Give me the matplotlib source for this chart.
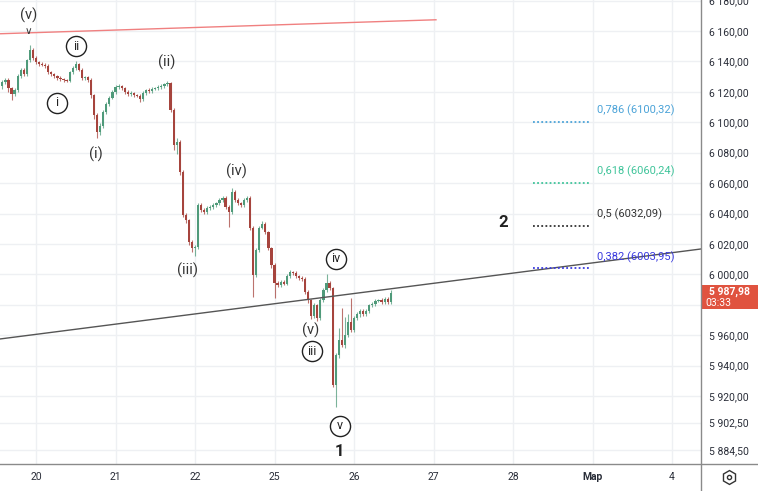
#!/usr/bin/python3
"""
15 minute candles with Elliott wave marks and a fib retracement box
"""
import matplotlib
matplotlib.use("Agg")
import matplotlib.pyplot as plt
import numpy as np
from matplotlib.lines import Line2D
from matplotlib.patches import Rectangle

plt.rcParams["font.family"] = ["Roboto", "DejaVu Sans"]

# closes per 15 min bar, split by session (19th is only partly on screen)
first_open = 6124.0
close_19 = [6126.5, 6127.8, 6122.5, 6118.6, 6121.2, 6130.4, 6134.4, 6131.7, 6140.9, 6147.5, 6142.2]
close_20 = [6139.6, 6138.3, 6137.9, 6137.0, 6133.0, 6131.7, 6130.4, 6129.1, 6128.4, 6127.8, 6127.2, 6133.0, 6135.7,
            6138.3, 6134.4, 6129.1, 6129.7, 6127.8, 6117.9, 6104.8, 6093.6, 6097.5, 6106.7, 6112.0, 6116.0, 6119.9]
close_21 = [6123.2, 6123.8, 6122.5, 6119.9, 6118.6, 6119.2, 6117.9, 6117.3, 6115.3, 6119.2, 6121.2, 6120.5, 6121.9,
            6122.5, 6123.2, 6123.8, 6125.1, 6125.8, 6108.1, 6085.0, 6087.0, 6067.3, 6039.0, 6035.7, 6021.3, 6017.3]
close_22 = [6018.0, 6045.6, 6042.3, 6041.0, 6043.6, 6044.3, 6045.6, 6046.9, 6048.9, 6050.2, 6044.3, 6041.0, 6054.1,
            6048.9, 6046.9, 6045.6, 6048.9, 6050.2, 6030.5, 5999.6, 6016.0, 6030.5, 6033.1, 6027.8, 6017.3, 6006.1]
close_25 = [5994.3, 5993.0, 5995.0, 5993.7, 5998.9, 6001.5, 6000.9, 5998.9, 5997.6, 5997.0, 5988.4, 5983.1, 5972.6,
            5979.8, 5971.3, 5983.1, 5989.7, 5994.3, 5991.0, 5927.2, 5947.0, 5956.8, 5953.5, 5960.1, 5968.7, 5963.4]
close_26 = [5971.3, 5973.9, 5975.9, 5973.9, 5975.9, 5979.8, 5980.5, 5982.5, 5983.1, 5981.8, 5983.8, 5981.8, 5987.98]

# wick lengths (points) above / below the body
wick_up = [1.5, 1.2, 1.0, 1.0, 1.5, 1.2, 1.0, 1.5, 1.0, 3.3, 1.2,
           1.2, 1.0, 1.5, 1.0, 1.2, 1.0, 0.8, 1.0, 1.2, 1.0, 0.8, 1.0, 1.5, 1.8, 1.0, 1.2, 1.0, 1.0, 1.2, 1.0, 1.5, 2.0, 1.5, 1.2, 1.0, 1.5,
           1.5, 1.2, 1.0, 1.0, 1.0, 1.2, 1.0, 1.0, 1.0, 1.5, 1.0, 1.2, 1.0, 1.0, 1.0, 1.2, 1.0, 1.5, 1.0, 1.0, 2.5, 1.5, 1.0, 1.5, 1.0, 1.0,
           1.0, 1.5, 1.0, 1.2, 1.5, 1.0, 1.2, 1.0, 1.5, 1.2, 1.0, 1.0, 2.7, 1.2, 1.0, 1.0, 1.5, 1.5, 1.0, 1.5, 1.5, 1.0, 2.0, 1.0, 1.0, 1.0,
           1.5, 1.2, 1.0, 1.5, 1.2, 1.5, 1.0, 1.2, 1.0, 1.0, 1.0, 1.0, 1.0, 1.5, 1.0, 1.5, 1.5, 6.0, 1.5, 1.0, 1.5, 8.0, 21.0, 12.0, 5.0, 15.7,
           1.5, 1.2, 1.0, 1.5, 1.0, 1.0, 1.2, 1.0, 1.0, 1.2, 1.0, 1.5, 1.5]
wick_dn = [2.0, 1.5, 2.5, 4.0, 1.5, 1.0, 1.5, 1.0, 1.0, 1.0, 1.5,
           1.0, 1.5, 1.0, 1.2, 1.0, 1.0, 1.2, 1.0, 1.0, 1.5, 1.0, 1.0, 1.0, 1.2, 1.0, 1.0, 1.5, 1.5, 2.0, 2.5, 4.0, 2.0, 1.5, 1.0, 1.0, 1.0,
           1.0, 1.0, 1.2, 1.0, 1.0, 1.0, 1.5, 1.0, 2.0, 1.0, 1.0, 1.0, 1.0, 1.0, 1.0, 1.0, 1.0, 1.0, 1.5, 3.0, 6.0, 2.0, 1.5, 2.0, 2.0, 2.5,
           5.0, 1.0, 1.5, 1.0, 1.0, 1.2, 1.0, 1.0, 1.0, 1.0, 1.5, 10.0, 1.0, 1.5, 1.0, 1.2, 1.0, 1.0, 1.5, 14.5, 1.5, 1.0, 1.0, 1.5, 1.5, 2.0,
           10.0, 1.5, 1.2, 1.0, 1.0, 1.0, 1.2, 1.0, 1.0, 1.5, 1.5, 2.0, 2.0, 1.5, 2.0, 1.0, 1.0, 1.0, 1.0, 1.0, 14.4, 2.0, 1.5, 2.0, 1.5, 1.5,
           1.5, 1.0, 2.0, 1.0, 1.5, 1.0, 1.0, 1.2, 1.0, 1.0, 1.5, 1.0, 1.2]

day_labels = ["20", "21", "22", "25", "26", "27", "28", "Мар", "4"]
bars_per_day = 26

price_ticks = [6180, 6160, 6140, 6120, 6100, 6080, 6060, 6040, 6020, 6000, 5980, 5960, 5940, 5920, 5902.5, 5884.5]

# fib retracement levels
fib_ratio = ["0,786", "0,618", "0,5", "0,382"]
fib_price = [6100.32, 6060.24, 6032.09, 6003.95]
fib_color = ["#4ba3d8", "#3fc49a", "#333333", "#3a3adf"]

# wave labels: (text, bar, price, circled)
wave_labels = [
    ("(v)", -2.3, 6170.0, False),
    ("ii", 13.1, 6150.1, True),
    ("i", 6.9, 6112.7, True),
    ("(i)", 19.6, 6079.1, False),
    ("(ii)", 42.8, 6139.6, False),
    ("(iii)", 49.7, 6002.9, False),
    ("(iv)", 65.7, 6068.0, False),
    ("iv", 98.1, 6010.1, True),
    ("(v)", 89.9, 5963.4, False),
    ("iii", 90.3, 5949.6, True),
    ("v", 99.4, 5900.3, True),
]

# trend lines: (bar, price) end points
red_line = ([-11.8, 130.8], [6158.2, 6167.4])
gray_line = ([-11.8, 217.5], [5957.5, 6016.7])


def ru_price(v, sep=" "):
    """price text the way the terminal shows it: space thousands, comma decimals"""
    return f"{v:,.2f}".replace(",", sep).replace(".", ",")


closes = np.array(close_19 + close_20 + close_21 + close_22 + close_25 + close_26)
opens = np.concatenate([[first_open], closes[:-1]])
highs = np.maximum(opens, closes) + np.array(wick_up)
lows = np.minimum(opens, closes) - np.array(wick_dn)
bars = np.arange(len(closes)) - len(close_19)

GREEN = "#4f9a7a"
RED = "#a6443d"
GRID = "#eef0f3"
TXT = "#2a2e39"

fig = plt.figure(figsize=(7.58, 4.91), dpi=100, facecolor="white")
ax = fig.add_axes([0, 27 / 491, 701 / 758, 464 / 491])
ax.set_xlim(-11.77, 217.46)
ax.set_ylim(5875.3, 6180.4)

up = closes >= opens
colors = np.where(up, GREEN, RED)
ax.vlines(bars, lows, highs, colors=colors, lw=0.8, alpha=0.75, zorder=2)
body = np.maximum(np.abs(closes - opens), 0.4)
ax.bar(bars, body, bottom=np.minimum(opens, closes), width=0.72, color=colors, linewidth=0, zorder=3)

# trend lines
ax.plot(*red_line, color="#f08080", lw=1.0, zorder=4)
ax.plot(*gray_line, color="#555555", lw=1.0, zorder=4)

# fib levels
for ratio, price, col in zip(fib_ratio, fib_price, fib_color):
    ax.plot([162.5, 181.2], [price, price], color=col, lw=1.3, linestyle=(0, (1, 1.3)), zorder=4)
    ax.text(183.5, price + 7.5, f"{ratio} ({ru_price(price, '')})",
            color=col, fontsize=8, va="center", ha="left", zorder=5)

# wave labels
for text, b, p, circled in wave_labels:
    if circled:
        ax.plot(b, p, marker="o", markersize=14.5, mfc="white", mec="#222222", mew=1.0, zorder=6)
        ax.text(b, p, text, fontsize=9, ha="center", va="center", color="#222222", zorder=7)
    else:
        ax.text(b, p, text, fontsize=10.5, ha="center", va="center", color="#333333", zorder=7)
ax.text(-2.6, 6160.3, "∨", family="DejaVu Sans", fontsize=7.5, ha="center", va="center", color="#333333", zorder=7)
ax.text(99.1, 5883.8, "1", fontsize=12, fontweight="bold", ha="center", va="center", color="#222222", zorder=7)
ax.text(152.7, 6034.4, "2", fontsize=12, fontweight="bold", ha="center", va="center", color="#222222", zorder=7)

# axes look
ax.set_xticks([i * bars_per_day for i in range(len(day_labels))])
ax.set_xticklabels(day_labels)
ax.set_yticks(price_ticks)
ax.set_yticklabels(["" if t == 5980 else ru_price(t) for t in price_ticks])
ax.yaxis.tick_right()
ax.tick_params(axis="y", length=0, pad=6, labelsize=7.5, labelcolor=TXT)
ax.tick_params(axis="x", length=0, pad=6, labelsize=7.5, labelcolor=TXT)
for lab in ax.get_yticklabels():
    lab.set_horizontalalignment("left")
for lab in ax.get_xticklabels():
    if lab.get_text() == "Мар":
        lab.set_fontweight("bold")
ax.grid(True, color=GRID, lw=1.0, zorder=0)
ax.set_axisbelow(True)
for s in ax.spines.values():
    s.set_visible(False)

# frame lines and the current price tag
fig.add_artist(Line2D([0, 1], [27 / 491, 27 / 491], transform=fig.transFigure, color="#8a8a8a", lw=1.0))
fig.add_artist(Line2D([701 / 758, 701 / 758], [0, 1], transform=fig.transFigure, color="#8a8a8a", lw=1.0))
fig.add_artist(Rectangle((701 / 758, 1 - 309 / 491), 57 / 758, 24 / 491, transform=fig.transFigure,
                         facecolor="#e0533f", edgecolor="none"))
fig.text(729.5 / 758, 1 - 292 / 491, ru_price(closes[-1]), color="white", fontsize=7.5, fontweight="bold",
         ha="center", va="center")
fig.text(718 / 758, 1 - 303 / 491, "03:33", color="white", fontsize=7.5, ha="center", va="center")

# settings icon
fig.add_artist(Line2D([729 / 758], [1 - 477 / 491], transform=fig.transFigure, marker="h", markersize=10,
                      mfc="none", mec="#333333", mew=1.0))
fig.add_artist(Line2D([729 / 758], [1 - 477 / 491], transform=fig.transFigure, marker="o", markersize=3,
                      mfc="none", mec="#333333", mew=1.0))

fig.savefig("out.png", dpi=100)
